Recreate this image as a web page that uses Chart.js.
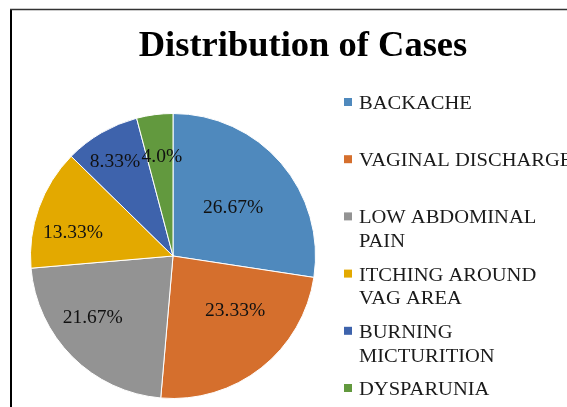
<!DOCTYPE html>
<html>
<head>
<meta charset="utf-8">
<title>Distribution of Cases</title>
<script src="https://cdn.jsdelivr.net/npm/chart.js@4.4.1/dist/chart.umd.min.js"></script>
<style>
  html, body { margin: 0; padding: 0; background: #fff; }
  #wrap { position: relative; width: 567px; height: 407px; overflow: hidden; }
</style>
</head>
<body>
<div id="wrap"><canvas id="chart" width="567" height="407"></canvas></div>
<script>
const chartTitle = "Distribution of Cases";
const categories = [
  ["BACKACHE"],
  ["VAGINAL DISCHARGE"],
  ["LOW ABDOMINAL", "PAIN"],
  ["ITCHING AROUND", "VAG AREA"],
  ["BURNING", "MICTURITION"],
  ["DYSPARUNIA"]
];
const shares = [26.67, 23.33, 21.67, 13.33, 8.33, 4.0];
const sliceColors = ["#4f89bd", "#d56f2d", "#939393", "#e3a900", "#3e63ac", "#62993e"];

// label placement ("best fit" look): fraction of radius and angle nudge in degrees
const labelRadius = [0.54, 0.58, 0.71, 0.72, 0.775, 0.7];
const labelNudge = [2, -10.5, 7.5, -6.8, -1.5, 1];

const serif = '"Liberation Serif", "Times New Roman", serif';

function fmt(v) {
  return (Number.isInteger(v) ? v.toFixed(1) : String(v)) + "%";
}

const overlay = {
  id: "overlay",
  beforeDraw(chart) {
    const ctx = chart.ctx;
    ctx.save();
    ctx.fillStyle = "#fff";
    ctx.fillRect(0, 0, chart.width, chart.height);
    // frame (only top and left edges fall inside the picture)
    ctx.strokeStyle = "#000";
    ctx.lineWidth = 2;
    ctx.beginPath();
    ctx.moveTo(11, chart.height);
    ctx.lineTo(11, 9.5);
    ctx.stroke();
    ctx.strokeStyle = "#333";
    ctx.lineWidth = 1.5;
    ctx.beginPath();
    ctx.moveTo(10, 9.5);
    ctx.lineTo(chart.width, 9.5);
    ctx.stroke();
    ctx.restore();
  },
  afterDatasetsDraw(chart) {
    const ctx = chart.ctx;
    const meta = chart.getDatasetMeta(0);
    ctx.save();
    ctx.font = "19.5px " + serif;
    ctx.fillStyle = "#111";
    ctx.textAlign = "center";
    ctx.textBaseline = "middle";
    meta.data.forEach((arc, i) => {
      const p = arc.getProps(["x", "y", "startAngle", "endAngle", "outerRadius"], true);
      const mid = (p.startAngle + p.endAngle) / 2 + labelNudge[i] * Math.PI / 180;
      const r = p.outerRadius * labelRadius[i];
      ctx.fillText(fmt(shares[i]), p.x + Math.cos(mid) * r, p.y + Math.sin(mid) * r);
    });
    ctx.restore();
  },
  afterDraw(chart) {
    const ctx = chart.ctx;
    ctx.save();
    // title
    ctx.font = "bold 36.5px " + serif;
    ctx.fillStyle = "#000";
    ctx.textAlign = "center";
    ctx.textBaseline = "alphabetic";
    ctx.fillText(chartTitle, 303, 56);

    // legend
    ctx.font = "19px " + serif;
    ctx.textAlign = "left";
    categories.forEach((lines, i) => {
      const base = 109 + i * 57.2;
      ctx.fillStyle = sliceColors[i];
      ctx.fillRect(344, base - 11, 8, 8);
      ctx.fillStyle = "#1a1a1a";
      lines.forEach((t, j) => {
        ctx.save();
        ctx.translate(359, base + j * 23.7);
        ctx.scale(1.08, 1);
        ctx.fillText(t, 0, 0);
        ctx.restore();
      });
    });
    ctx.restore();
  }
};

const chart = new Chart(document.getElementById("chart"), {
  type: "pie",
  data: {
    labels: categories,
    datasets: [{
      data: shares,
      backgroundColor: sliceColors,
      borderColor: "#fff",
      borderWidth: 1
    }]
  },
  options: {
    responsive: false,
    animation: false,
    layout: { padding: { left: 30, right: 251, top: 113, bottom: 8 } },
    plugins: {
      legend: { display: false },
      tooltip: { enabled: false }
    }
  },
  plugins: [overlay]
});
</script>
</body>
</html>
